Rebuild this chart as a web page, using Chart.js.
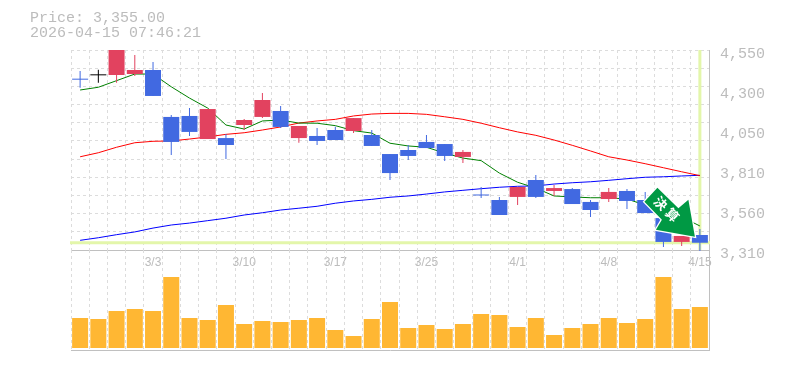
<!DOCTYPE html>
<html>
<head>
<meta charset="utf-8">
<script src="https://cdn.jsdelivr.net/npm/chart.js@4"></script>
<style>
  html, body { margin: 0; padding: 0; background: #fff; }
  #wrap { position: relative; width: 785px; height: 370px; overflow: hidden; }
  canvas { position: absolute; left: 0; }
  #priceChart { top: 0; }
  #volumeChart { top: 250px; }
  .head { position: absolute; left: 30px; font: 15px 'Liberation Mono', monospace; color: #bcbcbc; white-space: pre; }
</style>
</head>
<body>
<div id="wrap">
  <canvas id="priceChart" width="785" height="275"></canvas>
  <canvas id="volumeChart" width="785" height="101"></canvas>
  <div class="head" style="top:10px">Price: 3,355.00</div>
  <div class="head" style="top:25px">2026-04-15 07:46:21</div>
</div>
<script>
// ----- Data -----
const dates = ['2/25','2/26','2/27','3/2','3/3','3/4','3/5','3/6','3/9','3/10','3/11','3/12','3/13','3/16','3/17','3/18','3/19','3/23','3/24','3/25','3/26','3/27','3/30','3/31','4/1','4/2','4/3','4/6','4/7','4/8','4/9','4/10','4/13','4/14','4/15'];
const shownDates = ['3/3','3/10','3/17','3/25','4/1','4/8','4/15'];

const opens  = [4370,4393,4395,4401,4426,4135,4141,3998,4004,4085,4135,4172,4004,4017,4054,4048,4023,3905,3930,3980,3967,3887,3650,3620,3639,3744,3676,3688,3608,3626,3676,3620,3508,3360,3403];
const closes = [4366,4393,4550,4426,4265,3980,4042,4184,3961,4116,4240,4073,4079,3986,3992,4128,3955,3787,3893,3942,3893,3918,3648,3527,3701,3639,3694,3595,3558,3670,3614,3539,3360,3397,3355];
const highs  = [4420,4428,4550,4519,4476,4147,4190,4184,4029,4122,4283,4203,4079,4066,4074,4128,4054,3905,3961,4023,3967,3930,3701,3639,3701,3775,3713,3694,3620,3694,3688,3670,3527,3397,3440];
const lows   = [4316,4347,4347,4389,4265,3899,4017,3998,3874,4054,4128,4066,3975,3961,3992,4035,3955,3744,3868,3942,3862,3849,3632,3527,3589,3632,3645,3595,3515,3608,3564,3539,3329,3335,3304];

const maShort = [4302,4319,4360,4401,4401,4322,4252,4190,4085,4060,4110,4116,4097,4096,4081,4050,4035,3972,3955,3947,3911,3880,3864,3787,3730,3694,3645,3639,3634,3634,3626,3589,3552,3515,3459];
const maMid   = [3888,3913,3947,3975,3984,3986,3998,4011,4027,4037,4054,4073,4097,4110,4120,4141,4153,4157,4157,4151,4136,4120,4096,4068,4042,4021,3992,3959,3924,3888,3868,3845,3820,3795,3771];
const maLong  = [3370,3386,3405,3422,3446,3465,3477,3492,3507,3527,3541,3558,3569,3581,3600,3614,3624,3637,3645,3657,3670,3680,3690,3699,3705,3707,3719,3727,3733,3742,3752,3761,3764,3769,3773];

const volumes = [300,290,370,390,370,710,300,280,430,240,270,260,280,300,180,120,290,460,200,230,190,240,340,330,210,300,130,200,240,300,250,290,710,390,410];

const yTickValues = [4550,4302,4054,3806,3558,3310];
const yTickLabels = ['4,550','4,300','4,050','3,810','3,560','3,310'];
const yGridValues = [4550,4437,4325,4212,4099,3986,3874,3761,3648,3536,3423,3310];
const lastPrice = 3355;
const arrowLabel = ['決', '算'];

// ----- Colours -----
const UP = '#e2425f';
const DOWN = '#4169e1';
const FLAT = '#000000';
const GRID = '#dcdcdc';
const AXIS = '#c0c0c0';
const MARK = '#e3f6aa';
const TEXT = '#bcbcbc';

const candleColors = opens.map((o, i) => closes[i] > o ? UP : closes[i] < o ? DOWN : FLAT);

// ----- Current price lines and the arrow -----
const pricePlugin = {
  id: 'priceMarks',
  beforeDatasetsDraw(chart) {
    const { ctx, chartArea: a, scales } = chart;
    const px = scales.x.getPixelForValue(dates.length - 1);
    const py = scales.y.getPixelForValue(lastPrice);
    ctx.save();
    ctx.strokeStyle = MARK;
    ctx.lineWidth = 3;
    ctx.beginPath();
    ctx.moveTo(a.left - 1, py);
    ctx.lineTo(a.right + 1, py);
    ctx.moveTo(px, a.top);
    ctx.lineTo(px, a.bottom);
    ctx.stroke();
    ctx.restore();
  },
  afterDatasetsDraw(chart) {
    const { ctx, scales } = chart;
    // arrow is anchored on the last candle
    const tipX = scales.x.getPixelForValue(dates.length - 1) - 5;
    const tipY = scales.y.getPixelForValue(lastPrice) - 6;
    const shape = [[-37.5,-49],[-16.5,-28.5],[-6.5,-37],[0,0],[-39,-7],[-33,-17],[-50.5,-35]];
    ctx.save();
    ctx.translate(tipX, tipY);
    ctx.beginPath();
    shape.forEach((p, i) => i ? ctx.lineTo(p[0], p[1]) : ctx.moveTo(p[0], p[1]));
    ctx.closePath();
    ctx.lineJoin = 'miter';
    ctx.strokeStyle = '#fff';
    ctx.lineWidth = 2.5;
    ctx.stroke();
    ctx.fillStyle = '#009944';
    ctx.fill();
    ctx.fillStyle = '#fff';
    ctx.font = "bold 13px 'Noto Sans CJK JP'";
    ctx.textAlign = 'center';
    ctx.textBaseline = 'middle';
    [[-34,-33.5],[-22.5,-22]].forEach((p, i) => {
      ctx.save();
      ctx.translate(p[0], p[1]);
      ctx.rotate(Math.PI / 4);
      ctx.fillText(arrowLabel[i], 0, 0);
      ctx.restore();
    });
    ctx.restore();
  }
};

// ----- Price chart -----
const maLine = (data, color) => ({
  type: 'line', data, borderColor: color, borderWidth: 1,
  pointRadius: 0, tension: 0, order: 3
});

new Chart(document.getElementById('priceChart'), {
  data: {
    labels: dates,
    datasets: [
      maLine(maShort, '#008000'),
      maLine(maMid, '#ff0000'),
      maLine(maLong, '#0000ff'),
      {
        type: 'bar', data: highs.map((h, i) => [lows[i], h]),
        backgroundColor: candleColors, barThickness: 1, grouped: false, clip: false,
        inflateAmount: 0, order: 2
      },
      {
        type: 'bar', data: opens.map((o, i) => [o, closes[i]]),
        backgroundColor: candleColors, barThickness: 16, grouped: false, minBarLength: 1,
        inflateAmount: 0, order: 1
      }
    ]
  },
  options: {
    responsive: false,
    animation: false,
    layout: { padding: { left: 71, top: 50, right: 0, bottom: 0 } },
    plugins: { legend: { display: false }, tooltip: { enabled: false } },
    scales: {
      x: {
        offset: true,
        grid: { color: GRID, drawTicks: false },
        border: { color: AXIS, dash: [3, 3] },
        afterFit(scale) { scale.height = 25; },
        ticks: {
          autoSkip: false, maxRotation: 0, padding: 5, color: TEXT,
          font: { family: "'Liberation Sans'", size: 12 },
          callback(value) {
            const label = this.getLabelForValue(value);
            return shownDates.includes(label) ? label : '';
          }
        }
      },
      y: {
        position: 'right', min: 3310, max: 4550,
        grid: { display: false },
        border: { color: AXIS },
        afterBuildTicks(scale) { scale.ticks = yTickValues.map(value => ({ value })); },
        afterFit(scale) { scale.width = 76; },
        ticks: {
          padding: 3, labelOffset: 4, color: TEXT,
          font: { family: "'Liberation Mono'", size: 15 },
          callback(value, index) { return yTickLabels[index]; }
        }
      },
      yGrid: {
        position: 'left', min: 3310, max: 4550,
        grid: { color: GRID, drawTicks: false },
        border: { display: false, dash: [3, 3] },
        afterBuildTicks(scale) { scale.ticks = yGridValues.map(value => ({ value })); },
        afterFit(scale) { scale.width = 0; },
        ticks: { display: false }
      }
    }
  },
  plugins: [pricePlugin]
});

// ----- Volume chart -----
new Chart(document.getElementById('volumeChart'), {
  type: 'bar',
  data: {
    labels: dates,
    datasets: [{ data: volumes, backgroundColor: '#ffb733', barThickness: 16, inflateAmount: 0 }]
  },
  options: {
    responsive: false,
    animation: false,
    layout: { padding: { left: 71, top: 0, right: 0, bottom: 0 } },
    plugins: { legend: { display: false }, tooltip: { enabled: false } },
    scales: {
      x: {
        offset: true,
        grid: { color: GRID, drawTicks: false },
        border: { color: AXIS, dash: [3, 3] },
        afterFit(scale) { scale.height = 1; },
        ticks: { display: false }
      },
      y: {
        position: 'right', min: -20, max: 980,
        grid: { display: false },
        border: { color: AXIS },
        afterFit(scale) { scale.width = 76; },
        ticks: { display: false }
      }
    }
  }
});
</script>
</body>
</html>
